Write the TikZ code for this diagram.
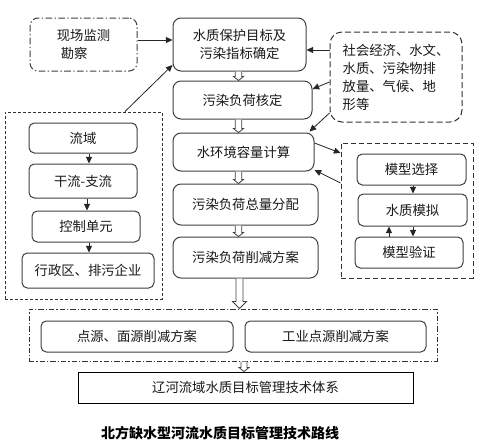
\documentclass[tikz,border=0pt]{standalone}
\usepackage{fontspec}
\setmainfont{Noto Sans CJK SC}
\usetikzlibrary{arrows.meta,calc}
\newcommand\harr[6]{% #1 top node, #2 bottom node, #3 x (px), #4 shaft half, #5 head half, #6 head length
  \draw[harrow] ($(#1.south -| #3,0)+(-#4,0)$) -- ($(#2.north -| #3,0)+(-#4,-#6)$)
    -- ($(#2.north -| #3,0)+(-#5,-#6)$) -- (#2.north -| #3,0)
    -- ($(#2.north -| #3,0)+(#5,-#6)$) -- ($(#2.north -| #3,0)+(#4,-#6)$)
    -- ($(#1.south -| #3,0)+(#4,0)$);}
\begin{document}
\begin{tikzpicture}[x=0.75pt,y=-0.75pt,
  every node/.style={font=\fontsize{10}{13.5}\selectfont, text=black!90},
  rbox/.style={draw=black!75, line width=0.75pt, rounded corners=6pt, fill=white, inner sep=0pt, align=center},
  sbox/.style={rbox, rounded corners=4pt},
  grp/.style={draw=black!80, line width=0.75pt, inner sep=0pt},
  arr/.style={draw=black!85, line width=0.6pt, -{Triangle[length=5pt,width=4.5pt]}},
  harrow/.style={draw=black!75, line width=0.6pt, fill=white},
]
\path[fill=white] (0,0) rectangle (481,443);
\useasboundingbox (0,0) rectangle (481,443);

% group boxes
\node[grp, dash pattern=on 2.25pt off 1.5pt, minimum width=117.75pt, minimum height=140.25pt] (LG) at (83.5,205.5) {};
\node[grp, rounded corners=9pt, dash pattern=on 4.5pt off 2.25pt, minimum width=99pt, minimum height=67.5pt, align=left, fill=white] (SG) at (396,77)
  {社会经济、水文、\\水质、污染物排\\放量、气候、地\\形等};
\node[grp, dash pattern=on 4pt off 2pt, minimum width=99pt, minimum height=101.25pt] (MG) at (407,210.5) {};
\node[grp, dash pattern=on 4pt off 1.5pt on 1pt off 1.5pt, minimum width=306pt, minimum height=39pt] (BG) at (233,335) {};

% top-left
\node[rbox, dash pattern=on 5pt off 1.8pt on 1pt off 1.8pt, minimum width=80.25pt, minimum height=39.75pt, align=left] (Xc) at (83.5,44.5)
  {现场监测\\\hspace{3pt}勘察};

% centre column
\node[rbox, minimum width=99.75pt, minimum height=39.75pt] (A) at (239.5,44.5) {水质保护目标及\\污染指标确定};
\node[rbox, minimum width=104.25pt, minimum height=28.5pt] (B) at (242.5,100) {污染负荷核定};
\node[rbox, minimum width=105.75pt, minimum height=28.5pt] (C) at (243.5,152) {水环境容量计算};
\node[rbox, minimum width=108.75pt, minimum height=30.75pt] (D) at (245.5,204.5) {污染负荷总量分配};
\node[rbox, minimum width=108.75pt, minimum height=30.75pt] (E) at (245.5,257.5) {污染负荷削减方案};

% left group
\node[sbox, minimum width=81pt, minimum height=22.5pt] (L1) at (83,138) {流域};
\node[sbox, minimum width=81pt, minimum height=25.5pt] (L2) at (83,181) {干流-支流};
\node[sbox, minimum width=81pt, minimum height=23.25pt] (L3) at (86,226.5) {控制单元};
\node[sbox, minimum width=99pt, minimum height=26.25pt] (L4) at (88,270.5) {行政区、排污企业};

% model group
\node[sbox, minimum width=81.75pt, minimum height=23.25pt] (M1) at (411.5,169.5) {模型选择};
\node[sbox, minimum width=81.75pt, minimum height=24pt] (M2) at (412.5,210) {水质模拟};
\node[sbox, minimum width=81pt, minimum height=23.25pt] (M3) at (409,252.5) {模型验证};

% bottom
\node[sbox, minimum width=144pt, minimum height=23.25pt] (P1) at (137,336.5) {点源、面源削减方案};
\node[sbox, minimum width=135.75pt, minimum height=23.25pt] (P2) at (335.5,336.5) {工业点源削减方案};
\node[draw=black, line width=0.75pt, fill=white, minimum width=251.25pt, minimum height=23.25pt, inner sep=0pt] (F) at (245.5,387.5) {辽河流域水质目标管理技术体系};

\node[font=\fontsize{10.5}{12}\selectfont\bfseries, text=black] (T) at (220,433) {北方缺水型河流水质目标管理技术路线};

% connectors
\draw[arr] ($(Xc.east)+(0,-4.5)$) -- ($(A.west)+(0,-4.5)$);
\draw[arr] (LG.north -| 125,0) -- (A.west |- 0,65);
\draw[arr] (SG.west |- 0,50) -- (A.east |- 0,50);
\draw[arr] (SG.west |- 0,82) -- (B.east |- 0,89);
\draw[arr] (SG.west |- 0,113) -- ($(C.north east)+(-5,-1)$);
\draw[arr] (C.east |- 0,143) -- (MG.west |- 0,153);
\draw[arr] (MG.west |- 0,183) -- (C.east |- 0,170);

\draw[arr] (L1.south -| 89,0) -- (L2.north -| 89,0);
\draw[arr] (L2.south -| 87,0) -- (L3.north -| 87,0);
\draw[arr] (L3.south -| 89,0) -- (L4.north -| 89,0);

\draw[arr] (M1.south -| 413,0) -- (M2.north -| 413,0);
\draw[arr] (M2.south -| 413,0) -- (M3.north -| 413,0);
\draw[arr] (M3.north -| 389,0) -- (M2.south -| 389,0);

\harr{A}{B}{238.5}{3.3}{5}{4}
\harr{B}{C}{238.5}{3.3}{5}{4}
\harr{C}{D}{238.5}{3.3}{5}{4}
\harr{D}{E}{238.5}{3.3}{5}{4}
\harr{E}{BG}{239.5}{3.5}{7}{7}
\harr{BG}{F}{244}{3}{5}{4}
\end{tikzpicture}
\end{document}
